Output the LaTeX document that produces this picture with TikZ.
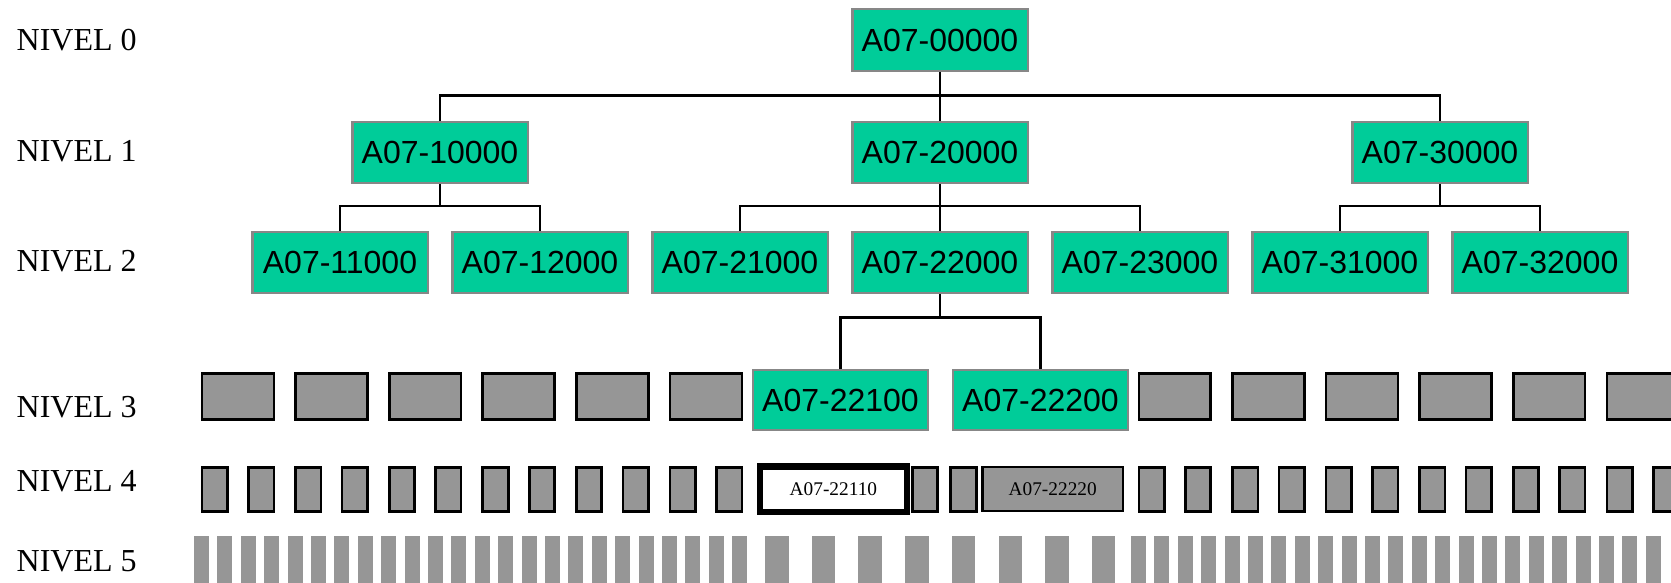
\documentclass[tikz,border=0pt]{standalone}
\usepackage{fontspec}
\setmainfont{Liberation Serif}
\newfontfamily\arialfont{Liberation Sans}
\usepackage{tikz}
\usepackage{xcolor}
\definecolor{boxgreen}{RGB}{0,204,153}
\definecolor{boxgray}{RGB}{150,150,150}
\definecolor{edgegray}{RGB}{135,135,135}

\begin{document}
\begin{tikzpicture}[x=0.01cm,y=-0.01cm,
  unit/.style={draw=edgegray,line width=0.6pt,fill=boxgreen,minimum width=1.75cm,minimum height=0.615cm,inner sep=0pt,font=\arialfont\fontsize{9.1pt}{11pt}\selectfont},
  level/.style={anchor=base west,inner sep=0pt,font=\fontsize{9.1pt}{11pt}\selectfont},
  tie/.style={line width=0.75pt},
  blank/.style={draw=black,line width=0.75pt,fill=boxgray},
  small/.style={inner sep=0pt,font=\fontsize{5.5pt}{7pt}\selectfont}]
\useasboundingbox (0,0) rectangle (1671,582);
\clip (0,0) rectangle (1671,582);
%%%LEVELS
\node[level] (l0) at (16,50.7) {NIVEL 0};
\node[level] (l1) at (16,161.7) {NIVEL 1};
\node[level] (l2) at (16,271.7) {NIVEL 2};
\node[level] (l3) at (16,417.3) {NIVEL 3};
\node[level] (l4) at (16,491.7) {NIVEL 4};
\node[level] (l5) at (16,571) {NIVEL 5};
%%%UNITS
\node[unit] (n0) at (940,40) {A07-00000};
\node[unit] (n10) at (440,152.5) {A07-10000};
\node[unit] (n20) at (940,152.5) {A07-20000};
\node[unit] (n30) at (1440,152.5) {A07-30000};
\node[unit] (n11) at (340,262.5) {A07-11000};
\node[unit] (n12) at (540,262.5) {A07-12000};
\node[unit] (n21) at (740,262.5) {A07-21000};
\node[unit] (n22) at (940,262.5) {A07-22000};
\node[unit] (n23) at (1140,262.5) {A07-23000};
\node[unit] (n31) at (1340,262.5) {A07-31000};
\node[unit] (n32) at (1540,262.5) {A07-32000};
\node[unit,minimum height=0.595cm] (n221) at (840.5,400) {A07-22100};
\node[unit,minimum height=0.595cm] (n222) at (1040.5,400) {A07-22200};
%%%LINKS
\coordinate (b0) at (0,95.7);
\coordinate (b1) at (0,206);
\coordinate (b2) at (0,317.3);
\draw[tie] (n0) -- (n20);
\draw[tie] (n10.north) -- (n10.north |- b0) -| (n30.north);
\draw[tie] (n10.south) -- (n10.south |- b1);
\draw[tie] (n11.north) -- (n11.north |- b1) -| (n12.north);
\draw[tie] (n20) -- (n22);
\draw[tie] (n21.north) -- (n21.north |- b1) -| (n23.north);
\draw[tie] (n30.south) -- (n30.south |- b1);
\draw[tie] (n31.north) -- (n31.north |- b1) -| (n32.north);
\draw[tie] (n22.south) -- (n22.south |- b2);
\draw[tie] (n221.north) -- (n221.north |- b2) -| (n222.north);
%%%EMPTY BOXES, LEVELS 3 AND 4
\foreach \x in {200.7,294.3,387.9,481.5,575.1,668.7,1137.5,1231.1,1324.7,1418.3,1511.9,1605.5} {
  \draw[blank] (\x+1.3,373.6) rectangle ++(71.9,46.1);
  \draw[blank] (\x+1.3,467.3) rectangle ++(25.4,44.1);
  \draw[blank] (\x+47.8,467.3) rectangle ++(25.4,44.1);
}
\draw[blank] (912.3,467.3) rectangle (937.7,511.4);
\draw[blank] (950.3,467.3) rectangle (976.7,511.4);
\node[small,draw=black,line width=1.85pt,fill=white,minimum width=1.468cm,minimum height=0.452cm] (n2211) at (833.4,489.2) {A07-22110};
\node[small,draw=black,line width=0.75pt,fill=boxgray,minimum width=1.407cm,minimum height=0.44cm] (n2222) at (1052.7,489.1) {A07-22220};
%%%LEVEL 5
\foreach \i in {0,...,23} \fill[boxgray] ({194+23.4*\i},536) rectangle ++(15,50);
\foreach \i in {0,...,7} \fill[boxgray] ({765+46.7*\i},536) rectangle ++(23.5,50);
\foreach \i in {0,...,22} \fill[boxgray] ({1131+23.4*\i},536) rectangle ++(15,50);
\end{tikzpicture}
\end{document}
